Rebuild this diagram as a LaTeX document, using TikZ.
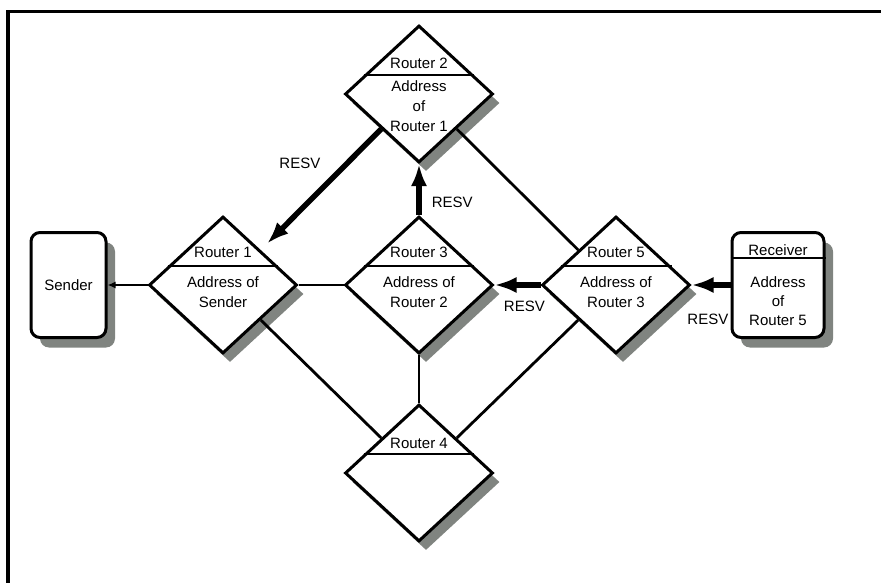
\documentclass[tikz,border=0pt]{standalone}
\usepackage{fontspec}
\setmainfont{Liberation Sans}
\usetikzlibrary{arrows.meta, shapes, positioning, calc, shadows}
\definecolor{shadowgray}{RGB}{128,132,128}
\tikzstyle{router} = [draw, diamond, fill=white, line width=3pt, minimum width=148pt, minimum height=137pt, inner sep=0pt, drop shadow={shadow xshift=7pt, shadow yshift=-9pt, fill=shadowgray, opacity=1}]
\tikzstyle{host} = [draw, rectangle, rounded corners=9pt, fill=white, line width=3pt, minimum height=105pt, inner sep=0pt, font=\fontsize{15}{20}\selectfont, drop shadow={shadow xshift=9pt, shadow yshift=-10pt, fill=shadowgray, opacity=1}]
\tikzstyle{txt} = [font=\fontsize{15}{20}\selectfont, align=center, inner sep=1pt]
\tikzstyle{link} = [line width=2.8pt]
\tikzstyle{resv} = [line width=5.5pt, -{Latex[length=22pt,width=16pt]}]
\tikzstyle{divider} = [line width=2pt]

\begin{document}
\begin{tikzpicture}[x=1pt, y=-1pt, on grid]
	\useasboundingbox (0,0) rectangle (881,583);
	\draw[line width=3.5pt] (8,583) -- (8,11.5) -- (881,11.5);

	\node[router]                                        (router 1)  at (223,285) {};
	\node[router, right=196pt of router 1]               (router 3)  {};
	\node[router, right=197pt of router 3]               (router 5)  {};
	\node[router, above=191pt of router 3]               (router 2)  {};
	\node[router, below=188pt of router 3]               (router 4)  {};
	\node[host, minimum width=75pt, left=154.5pt of router 1]  (sender)    {Sender};
	\node[host, minimum width=92pt, right=162pt of router 5]   (receiver)  {};

	\foreach \r in {router 1, router 2, router 3, router 4, router 5}
		\draw[divider] ($(\r.west)!0.265!(\r.north)$) -- ($(\r.east)!0.265!(\r.north)$);
	\draw[divider] ([yshift=-27pt]receiver.north west) -- ([yshift=-27pt]receiver.north east);

	\node[txt] (router 1 name) at ([yshift=33pt]router 1.center)   {Router 1};
	\node[txt] (router 1 addr) at ([yshift=-7.5pt]router 1.center) {Address of\\Sender};
	\node[txt] (router 2 name) at ([yshift=31pt]router 2.center)   {Router 2};
	\node[txt] (router 2 addr) at ([yshift=-12pt]router 2.center)  {Address\\of\\Router 1};
	\node[txt] (router 3 name) at ([yshift=33pt]router 3.center)   {Router 3};
	\node[txt] (router 3 addr) at ([yshift=-7.5pt]router 3.center) {Address of\\Router 2};
	\node[txt] (router 4 name) at ([yshift=30pt]router 4.center)   {Router 4};
	\node[txt] (router 5 name) at ([yshift=33pt]router 5.center)   {Router 5};
	\node[txt] (router 5 addr) at ([yshift=-7.5pt]router 5.center) {Address of\\Router 3};
	\node[txt] (receiver name) at ([yshift=34.5pt]receiver.center) {Receiver};
	\node[txt, font=\fontsize{15}{19}\selectfont] (receiver addr) at ([yshift=-16.5pt]receiver.center) {Address\\of\\Router 5};

	\draw[link] (router 1.east)       -- (router 3.west);
	\draw[link] (router 1.south east) -- (router 4.north west);
	\draw[link] (router 3.south)      -- (router 4.north);
	\draw[link] (router 5.south west) -- (router 4.north east);
	\draw[link] (router 2.south east) -- (router 5.north west);
	\draw[link, -{Latex[length=8pt,width=7pt]}] (router 1.west) -- (sender.east);

	\draw[resv, shorten >=9pt] (router 2.south west) -- node[txt, pos=0.4, above left=5pt and 9pt] (resv 1) {RESV} (router 1.north east);
	\draw[resv] (router 3.north) -- node[txt, near start, right=9pt]   (resv 2) {RESV} (router 2.south);
	\draw[resv] (router 5.west)  -- node[txt, pos=0.35, below=12pt]    (resv 3) {RESV} (router 3.east);
	\draw[resv] (receiver.west)  -- node[txt, pos=0.58, below=25pt]    (resv 4) {RESV} (router 5.east);
\end{tikzpicture}
\end{document}
